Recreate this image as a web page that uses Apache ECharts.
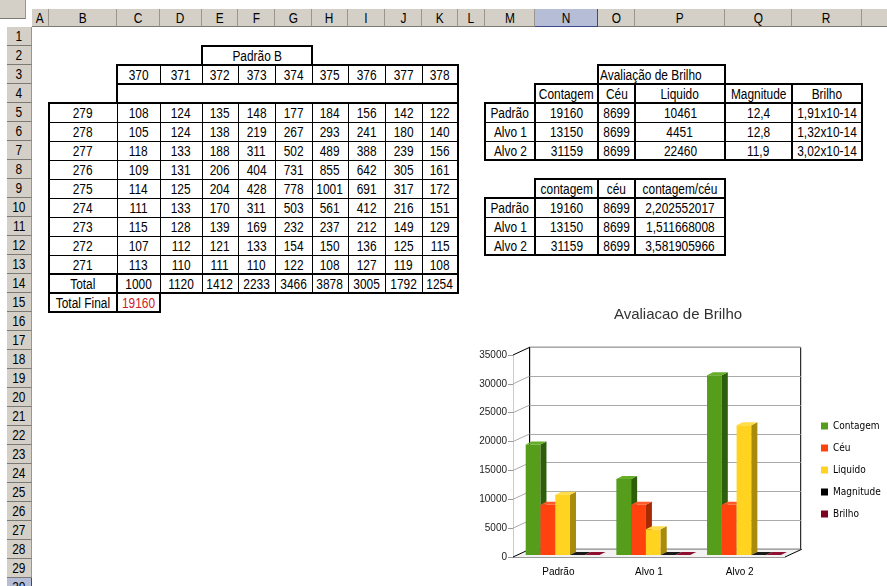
<!DOCTYPE html>
<html><head><meta charset="utf-8">
<script src="https://cdn.jsdelivr.net/npm/echarts@6/dist/echarts.min.js"></script>
<style>
html,body{margin:0;padding:0;background:#fff;overflow:hidden;width:887px;height:586px}
#sheet{position:absolute;left:0;top:0;width:887px;height:586px;overflow:hidden;font-family:'Liberation Sans',Arial,sans-serif;font-size:14px;color:#000}
.c{position:absolute;display:flex;align-items:center;justify-content:center;white-space:nowrap;box-sizing:border-box}
.c span{display:inline-block;transform:scaleX(.85)}
.b{position:absolute;box-sizing:border-box;border-style:solid;border-color:#000}
.h{background:#d4d0c8;border-right:1px solid #9a968e;border-bottom:1px solid #7c7a74}
.hs{background:#b6bdd6;border-right:1px solid #3c4a8c;border-bottom:1px solid #3c4a8c}
#chart{position:absolute;left:0;top:0;width:887px;height:586px}
</style></head>
<body>
<div id="sheet"></div>
<div id="chart"></div>
<script>
// ---------- data ----------
const padraoBCols = [370, 371, 372, 373, 374, 375, 376, 377, 378];
const rowLabels = [279, 278, 277, 276, 275, 274, 273, 272, 271];
const counts = [
  [108, 124, 135, 148, 177, 184, 156, 142, 122],
  [105, 124, 138, 219, 267, 293, 241, 180, 140],
  [118, 133, 188, 311, 502, 489, 388, 239, 156],
  [109, 131, 206, 404, 731, 855, 642, 305, 161],
  [114, 125, 204, 428, 778, 1001, 691, 317, 172],
  [111, 133, 170, 311, 503, 561, 412, 216, 151],
  [115, 128, 139, 169, 232, 237, 212, 149, 129],
  [107, 112, 121, 133, 154, 150, 136, 125, 115],
  [113, 110, 111, 110, 122, 108, 127, 119, 108]
];
const colTotals = [1000, 1120, 1412, 2233, 3466, 3878, 3005, 1792, 1254];
const totalFinal = 19160;

const categories = ['Padrão', 'Alvo 1', 'Alvo 2'];
const seriesNames = ['Contagem', 'Céu', 'Liquido', 'Magnitude', 'Brilho'];
const contagem = [19160, 13150, 31159];
const ceu = [8699, 8699, 8699];
const liquido = [10461, 4451, 22460];
const magnitude = [12.4, 12.8, 11.9];
const brilho = [1.91e-14, 1.32e-14, 3.02e-14];
const magnitudeTxt = ['12,4', '12,8', '11,9'];
const brilhoTxt = ['1,91x10-14', '1,32x10-14', '3,02x10-14'];
const table2Headers = ['contagem', 'céu', 'contagem/céu'];
const ratioTxt = ['2,202552017', '1,511668008', '3,581905966'];
const yTicks = [0, 5000, 10000, 15000, 20000, 25000, 30000, 35000];

// ---------- spreadsheet layout ----------
const colNames = ['A','B','C','D','E','F','G','H','I','J','K','L','M','N','O','P','Q','R','S'];
const colEdges = [32,49,117,160,202,238,275,312,348,385,422,458,485,535,598,635,725,792,862,935];
const ROW0 = 27, RH = 19;
const sheet = document.getElementById('sheet');
function rowTop(r){ return ROW0 + (r-1)*RH; }
function ci(c){ return typeof c === 'number' ? c : colNames.indexOf(c); }
function rect(c1,r1,c2,r2){
  const a = ci(c1), b = ci(c2);
  return {x: colEdges[a], y: rowTop(r1), w: colEdges[b+1]-colEdges[a], h: rowTop(r2+1)-rowTop(r1)};
}
function div(cls, x, y, w, h){
  const d = document.createElement('div'); d.className = cls;
  d.style.left = x+'px'; d.style.top = y+'px'; d.style.width = w+'px'; d.style.height = h+'px';
  sheet.appendChild(d); return d;
}
function text(c1,r1,c2,r2,t,opt){
  opt = opt || {};
  const R = rect(c1,r1,c2,r2);
  const d = div('c', R.x, R.y, R.w, R.h);
  const s = document.createElement('span'); s.textContent = String(t);
  if (opt.left){ d.style.justifyContent = 'flex-start'; d.style.paddingLeft = '2px'; s.style.transformOrigin = 'left center'; }
  if (opt.color) s.style.color = opt.color;
  d.appendChild(s);
}
function box(c1,r1,c2,r2,w){
  const R = rect(c1,r1,c2,r2);
  const off = w === 1 ? 0 : 1, add = w === 1 ? 1 : 2;
  const d = div('b', R.x-off, R.y-off, R.w+add, R.h+add);
  d.style.borderWidth = w+'px';
}
function grid(c1,r1,c2,r2){
  for (let c = ci(c1); c <= ci(c2); c++) for (let r = r1; r <= r2; r++) box(c,r,c,r,1);
}

// headers
div('h', 7, 9, 25, 18);
colNames.forEach((n,i)=>{
  const d = div(n === 'N' ? 'c hs' : 'c h', colEdges[i], 9, colEdges[i+1]-colEdges[i], 18);
  const s = document.createElement('span'); s.textContent = n; d.appendChild(s);
});
for (let r = 1; r <= 30; r++){
  const d = div(r === 30 ? 'c hs' : 'c h', 7, rowTop(r), 25, RH);
  const s = document.createElement('span'); s.textContent = r; d.appendChild(s);
}

// left table
text('E',2,'G',2,'Padrão B'); box('E',2,'G',2,2);
padraoBCols.forEach((v,j)=> text(ci('C')+j,3,ci('C')+j,3,v));
grid('C',3,'K',3); box('C',3,'K',3,2); box('C',4,'K',4,2);
rowLabels.forEach((lab,i)=>{
  text('B',5+i,'B',5+i,lab);
  counts[i].forEach((v,j)=> text(ci('C')+j,5+i,ci('C')+j,5+i,v));
});
grid('B',5,'K',13); box('B',5,'K',13,2);
text('B',14,'B',14,'Total');
colTotals.forEach((v,j)=> text(ci('C')+j,14,ci('C')+j,14,v));
grid('B',14,'K',14); box('B',14,'K',14,2); box('B',14,'B',14,2);
text('B',15,'B',15,'Total Final'); text('C',15,'C',15,totalFinal,{color:'#d0202a'});
box('B',15,'B',15,2); box('C',15,'C',15,2);

// right table 1
text('O',3,'P',3,'Avaliação de Brilho',{left:true}); box('O',3,'P',3,2);
seriesNames.forEach((h,j)=> text(ci('N')+j,4,ci('N')+j,4,h));
categories.forEach((lab,i)=>{
  const r = 5+i;
  text('M',r,'M',r,lab);
  [contagem[i], ceu[i], liquido[i], magnitudeTxt[i], brilhoTxt[i]].forEach((v,j)=> text(ci('N')+j,r,ci('N')+j,r,v));
});
grid('N',4,'R',4); grid('M',5,'R',7);
['N','O','P','Q','R'].forEach(c=> box(c,4,c,7,2));
box('N',4,'R',4,2); box('M',5,'M',7,2);

// right table 2
table2Headers.forEach((h,j)=> text(ci('N')+j,9,ci('N')+j,9,h));
categories.forEach((lab,i)=>{
  const r = 10+i;
  text('M',r,'M',r,lab);
  [contagem[i], ceu[i], ratioTxt[i]].forEach((v,j)=> text(ci('N')+j,r,ci('N')+j,r,v));
});
grid('N',9,'P',9); grid('M',10,'P',12);
['N','O','P'].forEach(c=> box(c,9,c,12,2));
box('N',9,'P',9,2); box('M',10,'M',12,2);

// ---------- chart ----------
const seriesColors = ['#579d1c', '#ff420e', '#ffd320', '#000000', '#7e0021'];
const sideColors   = ['#2f5e0a', '#a82a00', '#a88a0c', '#000000', '#4a0014'];
const topColors    = ['#66ad28', '#ff5a2a', '#ffdc48', '#1a1a1a', '#8e1030'];
const DX = 16.7, DY = -7.7, BDX = 6, BDY = -3;
const values = [contagem, ceu, liquido, magnitude, brilho];

function makeBar(s){
  return function(params, api){
    const i = api.value(0), v = api.value(1);
    const base = api.coord([i, 0]), top = api.coord([i, v]);
    const band = api.size([1, 0])[0];
    const bw = band * 0.163;
    const x0 = base[0] - band/2 + band*0.14 + s*bw;
    const yb = base[1] - 2, yt = Math.min(top[1] - 2, yb);
    return {type:'group', children:[
      {type:'rect', shape:{x:x0, y:yt, width:bw, height:yb-yt}, style:{fill:seriesColors[s]}},
      {type:'polygon', shape:{points:[[x0+bw,yt],[x0+bw+BDX,yt+BDY],[x0+bw+BDX,yb+BDY],[x0+bw,yb]]}, style:{fill:sideColors[s]}},
      {type:'polygon', shape:{points:[[x0,yt],[x0+BDX,yt+BDY],[x0+bw+BDX,yt+BDY],[x0+bw,yt]]}, style:{fill:topColors[s]}}
    ]};
  };
}

const series = [
  {type:'custom', name:'floor', xAxisIndex:0, yAxisIndex:0, z:1, silent:true, data:[[0,0]],
   renderItem:function(params, api){
     const cs = params.coordSys, y0 = cs.y + cs.height, x1 = cs.x + cs.width;
     return {type:'group', children:[
       {type:'polygon', shape:{points:[[cs.x,y0],[x1,y0],[x1+DX,y0+DY],[cs.x+DX,y0+DY]]}, style:{fill:'#f2f2f2'}},
       {type:'line', shape:{x1:cs.x+DX, y1:y0+DY, x2:x1+DX, y2:y0+DY}, style:{stroke:'#999', lineWidth:1}},
       {type:'line', shape:{x1:x1, y1:y0, x2:x1+DX, y2:y0+DY}, style:{stroke:'#000', lineWidth:1}}
     ]};
   }},
  {type:'custom', name:'wall', xAxisIndex:0, yAxisIndex:0, z:1, silent:true,
   data: yTicks.map(v=>[0, v]),
   renderItem:function(params, api){
     const cs = params.coordSys, v = api.value(1);
     const y = api.coord([0, v])[1];
     const edge = (v === yTicks[0] || v === yTicks[yTicks.length-1]);
     return {type:'line', shape:{x1:cs.x, y1:y, x2:cs.x+DX, y2:y+DY}, style:{stroke: edge ? '#000' : '#aaa', lineWidth:1}};
   }}
];
seriesNames.forEach((n,s)=>{
  series.push({type:'custom', name:n, xAxisIndex:0, yAxisIndex:0, z:3,
    itemStyle:{color:seriesColors[s]},
    data: values[s].map((v,i)=>[i, v]), renderItem: makeBar(s)});
});

const chart = echarts.init(document.getElementById('chart'), null, {renderer:'canvas'});
chart.setOption({
  animation:false,
  textStyle:{fontFamily:'Liberation Sans, Arial, sans-serif'},
  title:{text:'Avaliacao de Brilho', left:673, top:302, textAlign:'center',
         textStyle:{fontSize:15, fontWeight:'normal', color:'#333'}},
  legend:{data:seriesNames, orient:'vertical', left:816, top:415, itemWidth:7, itemHeight:7, itemGap:10,
          icon:'rect', textStyle:{fontSize:10, fontFamily:'DejaVu Sans Condensed, DejaVu Sans', color:'#000', lineHeight:12}},
  grid:[
    {left:513, top:355, width:272, height:202},
    {left:529.7, top:347.3, width:271, height:202, show:true, borderColor:'#000', borderWidth:1, backgroundColor:'#fff'}
  ],
  xAxis:[
    {type:'category', gridIndex:0, data:categories,
     axisLine:{lineStyle:{color:'#999'}}, axisTick:{length:5, lineStyle:{color:'#999'}},
     axisLabel:{fontSize:10, color:'#000', margin:10}},
    {type:'category', gridIndex:1, data:categories, show:false}
  ],
  yAxis:[
    {type:'value', gridIndex:0, min:0, max:35000, interval:5000,
     axisLine:{show:true, lineStyle:{color:'#ccc'}}, axisTick:{show:true, length:5, lineStyle:{color:'#999'}},
     splitLine:{show:false}, axisLabel:{fontSize:10, color:'#222', margin:6, formatter:function(v){ return String(v); }}},
    {type:'value', gridIndex:1, min:0, max:35000, interval:5000,
     axisLine:{show:true, lineStyle:{color:'#000'}}, axisTick:{show:false}, axisLabel:{show:false},
     splitLine:{show:true, lineStyle:{color:'#aaa'}}}
  ],
  series: series
});
</script>
</body></html>
